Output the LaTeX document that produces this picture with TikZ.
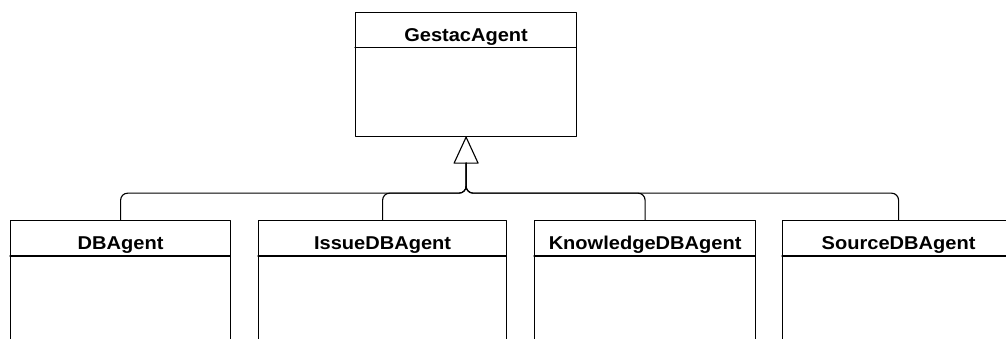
\documentclass[tikz,border=0pt]{standalone}
\usepackage{fontspec}
\newfontfamily\umlfont[FakeStretch=1.08]{Liberation Sans}
\usetikzlibrary{calc}

\tikzset{
	cls/.style={draw, rectangle, inner sep=0pt, anchor=north west},
	clsname/.style={anchor=base, inner sep=0pt, font=\umlfont\bfseries\fontsize{13.2}{15}\selectfont}
}

\begin{document}
\begin{tikzpicture}[line join=round, line cap=round, line width=.8pt, x=.025cm, y=-.025cm]
	\useasboundingbox (0,0) rectangle (1006,339);
	\clip (0,0) rectangle (1006,339);
	% parent class
	\node[cls, minimum width=5.525cm, minimum height=3.1cm] (gestac) at (355,12) {};
	\draw (gestac.north west) ++(0,35.5) -- ++(221,0);
	\node[clsname] (gestacname) at ($(gestac.north)+(0,29.5)$) {GestacAgent};
	% subclasses, cut off at the bottom
	\node[cls, minimum width=5.5cm, minimum height=5cm] (db) at (10,220) {};
	\node[cls, minimum width=6.2cm, minimum height=5cm] (issue) at (258,220) {};
	\node[cls, minimum width=5.525cm, minimum height=5cm] (know) at (534,220) {};
	\node[cls, minimum width=5.8cm, minimum height=5cm] (source) at (782,220) {};
	\draw (db.north west) ++(0,36) -- ++(220,0)
	(issue.north west) ++(0,36) -- ++(248,0)
	(know.north west) ++(0,36) -- ++(221,0)
	(source.north west) ++(0,36) -- ++(232,0);
	\node[clsname] (dbname) at ($(db.north)+(0,30)$) {DBAgent};
	\node[clsname] (issuename) at ($(issue.north)+(0,30)$) {IssueDBAgent};
	\node[clsname] (knowname) at ($(know.north)+(0,30)$) {KnowledgeDBAgent};
	\node[clsname] (sourcename) at ($(source.north)+(0,30)$) {SourceDBAgent};
	% generalization arrow
	\coordinate (base) at ($(gestac.south)+(0,26)$);
	\coordinate (bus) at ($(gestac.south)+(0,56)$);
	\draw (gestac.south) -- ++(-12,26) -- ++(24,0) -- cycle;
	\foreach \c in {db,issue,know,source}
	\draw[rounded corners=5pt] (\c.north) |- (bus) -- (base);
\end{tikzpicture}
\end{document}
